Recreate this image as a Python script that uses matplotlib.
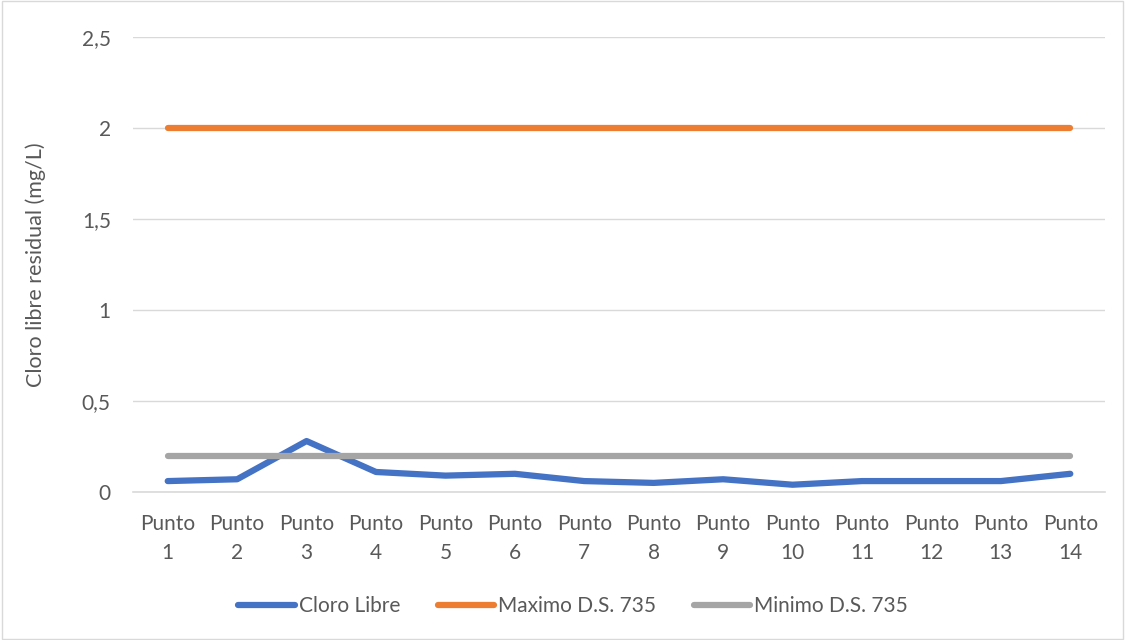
import matplotlib.pyplot as plt
from matplotlib.patches import Rectangle

plt.rcParams['font.family'] = ['Lato', 'DejaVu Sans']

puntos = [f"Punto\n{i}" for i in range(1, 15)]
cloro_libre = [0.06, 0.07, 0.28, 0.11, 0.09, 0.10, 0.06, 0.05, 0.07, 0.04, 0.06, 0.06, 0.06, 0.10]
maximo = [2] * 14
minimo = [0.2] * 14

gris = '#595959'

fig = plt.figure(figsize=(11.25, 6.4), dpi=100)
ax = fig.add_axes([133 / 1125, 1 - 492 / 640, 972 / 1125, 455 / 640])

x = range(len(puntos))
ax.plot(x, cloro_libre, color='#4472C4', lw=4.5, solid_capstyle='round', label='Cloro Libre', zorder=3)
ax.plot(x, maximo, color='#ED7D31', lw=4.5, solid_capstyle='round', label='Maximo D.S. 735', zorder=3)
ax.plot(x, minimo, color='#A5A5A5', lw=4.5, solid_capstyle='round', label='Minimo D.S. 735', zorder=3)

ax.set_xlim(-0.5, 13.5)
ax.set_ylim(0, 2.5)
ax.set_yticks([0, 0.5, 1, 1.5, 2, 2.5])
ax.set_yticklabels(['0', '0,5', '1', '1,5', '2', '2,5'])
ax.set_xticks(list(x))
ax.set_xticklabels(puntos, linespacing=1.55)
ax.grid(axis='y', color='#D9D9D9', lw=1)
ax.set_axisbelow(True)
for s in ['top', 'right', 'left']:
    ax.spines[s].set_visible(False)
ax.spines['bottom'].set_color('#D9D9D9')
ax.spines['bottom'].set_linewidth(1.2)
ax.tick_params(axis='both', length=0, labelsize=15, colors=gris)
ax.tick_params(axis='y', pad=16)
ax.tick_params(axis='x', pad=16)
ax.set_ylabel('Cloro libre residual (mg/L)', fontsize=15.5, color=gris, labelpad=26)

ax.legend(loc='center', bbox_to_anchor=(573 / 1125, 1 - 606 / 640), bbox_transform=fig.transFigure,
          ncol=3, frameon=False, fontsize=15, labelcolor=gris,
          handlelength=2.7, columnspacing=1.8, handletextpad=0.2)

fig.patches.append(Rectangle((0.002, 0.002), 0.996, 0.996, transform=fig.transFigure,
                             fill=False, edgecolor='#D9D9D9', lw=1))

fig.savefig('out.png', dpi=100)
